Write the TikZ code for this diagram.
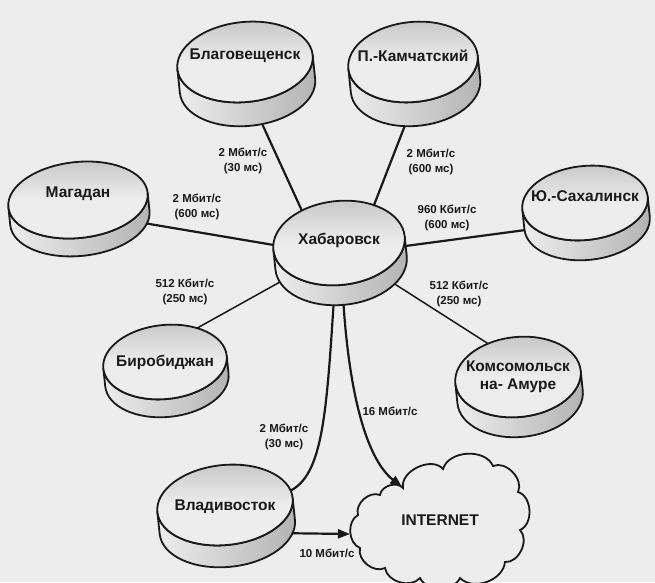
\documentclass[tikz,border=0pt]{standalone}
\usepackage{fontspec}
\setmainfont{Liberation Sans}
\usetikzlibrary{shapes.geometric,arrows.meta}
\pgfdeclarelayer{bg}
\pgfsetlayers{bg,main}
\definecolor{paper}{gray}{0.93}
\definecolor{ink}{gray}{0.1}
\tikzset{
  rim/.style={draw=ink, line width=1.8pt},
  body/.style={ellipse, inner sep=0pt, draw=none},
  city/.style={font=\fontsize{15.5}{18}\selectfont\bfseries, text=ink, align=center, inner sep=1pt},
  rate/.style={font=\fontsize{11.5}{15.5}\selectfont\bfseries, text=ink, align=center, inner sep=1pt},
  link/.style={draw=ink, line width=2.2pt},
  thin link/.style={draw=ink, line width=1.5pt},
  tip/.style={-{Triangle[length=12pt,width=9pt]}},
}
\newcommand\disk[8]{%
  \begin{scope}[shift={(#2,#3)}, rotate=6]
    \shadedraw[rim, left color=paper, right color=gray!60] (-#4pt,0pt) -- (-#4pt,-#6pt) arc[start angle=180,end angle=360,x radius=#4pt,y radius=#5pt] -- (#4pt,0pt) arc[start angle=0,end angle=-180,x radius=#4pt,y radius=#5pt] -- cycle;
    \shadedraw[rim, top color=gray!45, bottom color=paper, middle color=paper] (0pt,0pt) ellipse[x radius=#4pt,y radius=#5pt];
  \end{scope}
  \node[body, minimum width=2*#4pt, minimum height=2*#5pt+#6pt] (#1-body) at (#2,#3+0.5*#6) {};
  \node[city] (#1) at (#2,#3+#7) {#8};
}
\begin{document}
\begin{tikzpicture}[x=1pt,y=-1pt]
\useasboundingbox (0,0) rectangle (655,582);
\begin{pgfonlayer}{bg}
\fill[paper] (0,0) rectangle (655,582);
\end{pgfonlayer}

\disk{blag}{245}{62}{68}{40}{24}{-6}{Благовещенск}
\disk{kamch}{413}{62}{65}{40}{24}{-6}{П.-Камчатский}
\disk{magad}{78}{200}{70}{38}{18}{-6}{Магадан}
\disk{sakh}{585}{203}{63}{37}{20}{-7}{Ю.-Сахалинск}
\disk{hab}{339}{243}{66}{42}{20}{-3}{Хабаровск}
\disk{birob}{165}{362}{62}{37}{18}{0}{Биробиджан}
\disk{koms}{518}{377}{63}{40}{20}{0}{Комсомольск\\на- Амуре}
\disk{vlad}{225}{505}{68}{40}{22}{2}{Владивосток}

% cloud
\filldraw[rim, fill=paper]
  (403,488) to[bend left=75] (443,469) to[bend left=70] (493,466)
  to[bend left=70] (518,492) to[bend left=70] (520,530)
  to[bend left=70] (505,562) to[bend left=65] (460,578)
  to[bend left=65] (420,578) to[bend left=65] (385,568)
  to[bend left=65] (360,548) to[bend left=65] (358,515)
  to[bend left=65] (380,495) to[bend left=65] cycle;
\node[font=\fontsize{15.5}{18}\selectfont\bfseries, text=ink] (inet) at (440,520) {INTERNET};
\coordinate (inet-in) at (402,487);
\coordinate (inet-w) at (350,534);

\begin{pgfonlayer}{bg}
\draw[link] (blag-body.-71) -- (hab-body.131);
\draw[link] (kamch-body.-99) -- (hab-body.53);
\draw[link] (magad-body.-12) -- (hab-body.173);
\draw[link] (sakh-body.196) -- (hab-body.6);
\draw[thin link] (birob-body.55) -- (hab-body.206);
\draw[thin link] (koms-body.125) -- (hab-body.-29);
\draw[link] (hab-body.-96) .. controls (326,420) and (322,480) .. (vlad-body.21);
\draw[link,tip] (hab-body.-85) .. controls (350,400) and (368,460) .. (inet-in);
\draw[link,tip] (vlad-body.-15) -- (inet-w);
\end{pgfonlayer}

\node[rate] (l1) at (243,161) {2 Мбит/с\\(30 мс)};
\node[rate] (l2) at (431,162) {2 Мбит/с\\(600 мс)};
\node[rate] (l3) at (197,207) {2 Мбит/с\\(600 мс)};
\node[rate] (l4) at (447,218) {960 Кбит/с\\(600 мс)};
\node[rate] (l5) at (185,292) {512 Кбит/с\\(250 мс)};
\node[rate] (l6) at (459,294) {512 Кбит/с\\(250 мс)};
\node[rate] (l7) at (284,437) {2 Мбит/с\\(30 мс)};
\node[rate] (l8) at (390,411) {16 Мбит/с};
\node[rate] (l9) at (327,553) {10 Мбит/с};
\end{tikzpicture}
\end{document}
